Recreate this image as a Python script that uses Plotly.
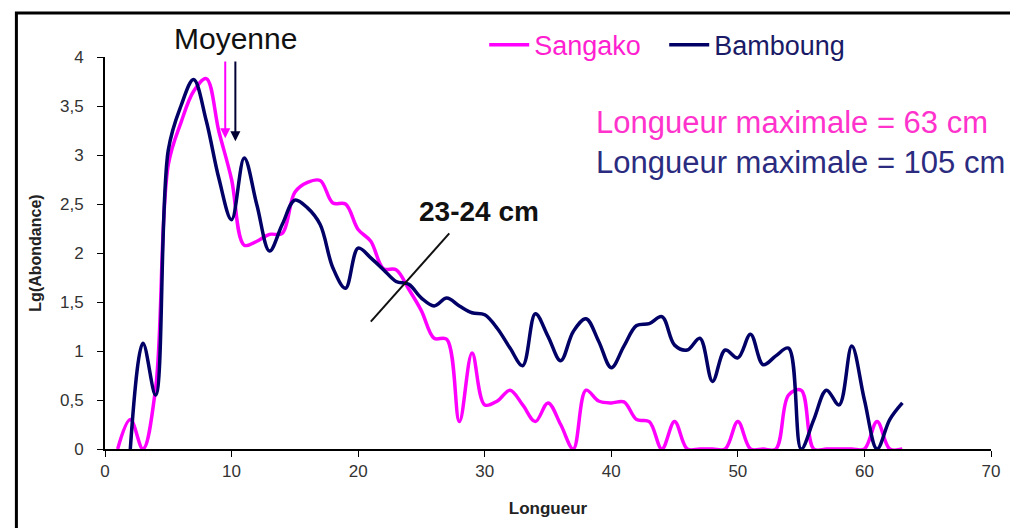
import plotly.graph_objects as go

# Lengths (cm) and log abundance per site
sangako_x = list(range(1, 64))
sangako_y = [0, 0.3, 0, 0.62, 2.9, 3.33, 3.65, 3.78, 3.24, 2.75,
             2.08, 2.12, 2.19, 2.2, 2.62, 2.72, 2.74, 2.51, 2.5, 2.24,
             2.12, 1.84, 1.83, 1.63, 1.41, 1.13, 1.12, 0.28, 0.98, 0.45,
             0.49, 0.6, 0.45, 0.28, 0.47, 0.25, 0, 0.6, 0.49, 0.47,
             0.48, 0.3, 0.28, 0, 0.28, 0, 0, 0, 0, 0.28,
             0, 0, 0, 0.55, 0.6, 0, 0, 0, 0, 0,
             0.28, 0, 0]

bamboung_x = list(range(2, 64))
bamboung_y = [0, 1.08, 0.55, 3.05, 3.5, 3.77, 3.35, 2.76, 2.34,
              2.97, 2.49, 2.02, 2.29, 2.54, 2.46, 2.29, 1.85, 1.64, 2.05,
              1.95, 1.83, 1.71, 1.68, 1.54, 1.46, 1.54, 1.46, 1.39, 1.37,
              1.23, 1.03, 0.85, 1.38, 1.15, 0.9, 1.2, 1.33, 1.1, 0.83,
              1.05, 1.26, 1.28, 1.35, 1.06, 1.01, 1.13, 0.69, 1.01, 0.93,
              1.17, 0.86, 0.95, 1.03, 0, 0.3, 0.6, 0.45, 1.05, 0.5,
              0, 0.3, 0.47]

y_ticks = [0, 0.5, 1, 1.5, 2, 2.5, 3, 3.5, 4]
y_tick_labels = ['0', '0,5', '1', '1,5', '2', '2,5', '3', '3,5', '4']
x_ticks = [0, 10, 20, 30, 40, 50, 60, 70]

MAGENTA = '#ff00ff'
NAVY = '#000066'
FONT = 'Liberation Sans, Arial, sans-serif'

fig = go.Figure()

fig.add_trace(go.Scatter(
    x=sangako_x, y=sangako_y, mode='lines',
    name='<span style="color:#ff1fd0">Sangako</span>',
    line=dict(color=MAGENTA, width=3.5, shape='spline', smoothing=1.0)
))

fig.add_trace(go.Scatter(
    x=bamboung_x, y=bamboung_y, mode='lines',
    name='<span style="color:#1a1a66">Bamboung</span>',
    line=dict(color=NAVY, width=3.5, shape='spline', smoothing=1.0)
))

# mean arrows
fig.add_annotation(x=9.5, y=3.17, ax=9.5, ay=3.97, xref='x', yref='y',
                   axref='x', ayref='y', text='', showarrow=True,
                   arrowhead=2, arrowsize=1, arrowwidth=2, arrowcolor=MAGENTA)
fig.add_annotation(x=10.3, y=3.14, ax=10.3, ay=3.97, xref='x', yref='y',
                   axref='x', ayref='y', text='', showarrow=True,
                   arrowhead=2, arrowsize=1, arrowwidth=2, arrowcolor='#000033')
fig.add_annotation(x=10.3, y=1.048, xref='x', yref='paper', yanchor='middle',
                   text='Moyenne', showarrow=False,
                   font=dict(size=30, color='#111111', family=FONT))

# 23-24 cm marker
fig.add_shape(type='line', x0=21.0, y0=1.3, x1=27.2, y1=2.2, xref='x', yref='y',
              line=dict(color='#111111', width=2))
fig.add_annotation(x=29.55, y=2.42, xref='x', yref='y', text='<b>23-24 cm</b>',
                   showarrow=False, font=dict(size=28, color='#111111', family=FONT))

# max length notes
fig.add_annotation(x=38.6, y=3.33, xref='x', yref='y', xanchor='left',
                   text='Longueur maximale = 63 cm', showarrow=False,
                   font=dict(size=31, color='#ff33cc', family=FONT))
fig.add_annotation(x=38.6, y=2.92, xref='x', yref='y', xanchor='left',
                   text='Longueur maximale = 105 cm', showarrow=False,
                   font=dict(size=31, color='#2b2b80', family=FONT))

# outer frame
fig.add_shape(type='rect', xref='paper', yref='paper',
              x0=-0.1, x1=1.038, y0=-0.25, y1=1.112,
              line=dict(color='black', width=3))

fig.update_layout(
    width=1018, height=528,
    margin=dict(l=97, r=35, t=49, b=87),
    plot_bgcolor='white', paper_bgcolor='white',
    font=dict(family=FONT, color='#222222'),
    showlegend=True,
    legend=dict(orientation='h', x=0.428, y=1.03, xanchor='left', yanchor='middle',
                font=dict(size=27), itemwidth=40, entrywidth=125,
                bgcolor='rgba(0,0,0,0)', tracegroupgap=0),
)

fig.update_xaxes(range=[0, 70], tickvals=x_ticks, showgrid=False, zeroline=False,
                 showline=True, linecolor='black', linewidth=2,
                 ticks='outside', ticklen=6, tickcolor='black',
                 tickfont=dict(size=17, color='#333333'),
                 title=dict(text='<b>Longueur</b>', font=dict(size=17, color='#222222'),
                            standoff=22))

fig.update_yaxes(range=[0, 4], tickvals=y_ticks, ticktext=y_tick_labels,
                 showgrid=False, zeroline=False, ticklabelstandoff=10,
                 showline=True, linecolor='black', linewidth=2,
                 ticks='outside', ticklen=6, tickcolor='black',
                 tickfont=dict(size=17, color='#333333'),
                 title=dict(text='<b>Lg(Abondance)</b>', font=dict(size=16, color='#222222'),
                            standoff=14))

fig.write_html("out.html")
